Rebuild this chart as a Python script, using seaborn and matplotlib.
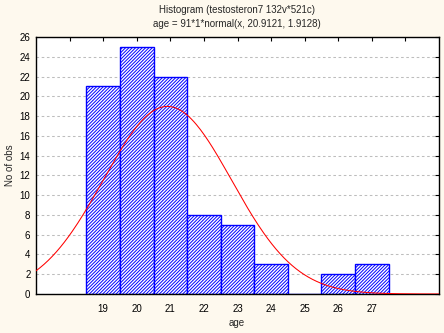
import numpy as np
import pandas as pd
import matplotlib
matplotlib.use("Agg")
import matplotlib.pyplot as plt
import seaborn as sns

# Observed age counts (bin centres and frequencies)
ages = [19, 20, 21, 22, 23, 24, 25, 26, 27]
counts = [21, 25, 22, 8, 7, 3, 0, 2, 3]

# Fitted normal: n * bin width * normal(x, mean, sd)
n_obs = 91
bin_width = 1
fit_mean = 20.9121
fit_sd = 1.9128

x_ticks = list(range(18, 29))
x_labels = ["" if t in (18, 28) else str(t) for t in x_ticks]
y_ticks = list(range(0, 27, 2))

sns.set_theme(style="white")
plt.rcParams["font.family"] = ["Liberation Sans", "DejaVu Sans"]
plt.rcParams["hatch.linewidth"] = 0.7
plt.rcParams["hatch.color"] = "#0000FF"

bg = "#FEF9EE"
fig = plt.figure(figsize=(4.44, 3.33), dpi=100, facecolor=bg)
ax = fig.add_axes([36 / 444, 1 - 294 / 333, (439 - 36) / 444, (294 - 37) / 333])
ax.set_facecolor("white")

df = pd.DataFrame({"age": ages, "count": counts})
sns.histplot(data=df, x="age", weights="count", discrete=True, ax=ax,
             color="white", edgecolor="#0000FF", linewidth=1.0, alpha=1)
for p in ax.patches:
    p.set_facecolor("white")
    p.set_hatch("//////////")
    p.set_edgecolor("#0000FF")
    p.set_zorder(2)

xs = np.linspace(17, 29, 300)
ys = n_obs * bin_width * np.exp(-0.5 * ((xs - fit_mean) / fit_sd) ** 2) / (fit_sd * np.sqrt(2 * np.pi))
sns.lineplot(x=xs, y=ys, ax=ax, color="#FF0000", linewidth=0.75, zorder=3)

ax.set_xlim(17, 29)
ax.set_ylim(0, 26)
ax.set_xticks(x_ticks)
ax.set_xticklabels(x_labels)
ax.set_yticks(y_ticks)
ax.yaxis.grid(True, color="#BDBDBD", linestyle=(0, (2.5, 2.5)), linewidth=0.75)
ax.set_axisbelow(True)
ax.tick_params(axis="both", direction="in", length=3, width=0.8, colors="black",
               labelsize=7, top=True, right=True)
ax.tick_params(axis="x", pad=7)
ax.tick_params(axis="y", pad=4)
for s in ax.spines.values():
    s.set_visible(True)
    s.set_color("black")
    s.set_linewidth(1.0)

ax.set_xlabel("")
ax.set_ylabel("")
fig.text(237 / 444, 1 - 323 / 333, "age", ha="center", va="center", fontsize=7)
fig.text(10 / 444, 1 - 165 / 333, "No of obs", ha="center", va="center",
         rotation=90, fontsize=7)

fig.text(237 / 444, 1 - 10 / 333, "Histogram (testosteron7 132v*521c)",
         ha="center", va="center", fontsize=7)
fig.text(237 / 444, 1 - 24 / 333, "age = 91*1*normal(x, 20.9121, 1.9128)",
         ha="center", va="center", fontsize=7)

fig.savefig("out.png", dpi=100, facecolor=bg)
